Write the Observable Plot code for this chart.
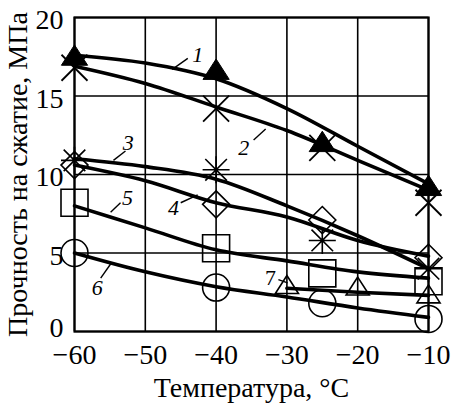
<!DOCTYPE html>
<html>
<head>
<meta charset="utf-8">
<script src="https://cdn.jsdelivr.net/npm/d3@7"></script>
<script src="https://cdn.jsdelivr.net/npm/@observablehq/plot@0.6"></script>
<style>
  html, body { margin: 0; padding: 0; background: #fff; }
  #chart svg { display: block; }
</style>
</head>
<body>
<div id="chart"></div>
<script>
// ---- data ----
const xTicks = [-60, -50, -40, -30, -20, -10];
const yTicks = [0, 5, 10, 15, 20];

// smooth curves
const curveT = [-60, -50, -40, -30, -20, -10];
const curve1 = [17.6, 17.1, 16.1, 14.2, 11.8, 9.4];
const curve2 = [16.9, 15.8, 14.3, 12.8, 10.9, 9.0];
const curve3 = [11.0, 10.5, 9.7, 8.0, 6.1, 4.0];
const curve4 = [10.6, 9.6, 8.2, 7.3, 5.8, 4.8];
const curve5 = [8.0, 6.6, 5.2, 4.5, 3.8, 3.4];
const curve6 = [5.0, 3.8, 2.85, 2.2, 1.5, 0.9];
const curve7T = [-30, -20, -10];
const curve7 = [2.75, 2.5, 2.3];

// measured points (markers)
const markT = [-60, -40, -25, -10];
const mark1 = [17.5, 16.6, 12.0, 9.2];   // filled triangles
const mark2 = [16.8, 14.2, 11.7, 8.2];   // crosses
const mark3 = [10.9, 10.3, 5.8, 4.0];    // asterisks
const mark4 = [10.6, 8.1, 7.1, 4.7];     // diamonds
const mark5 = [8.2, 5.3, 3.7, 3.2];      // squares
const mark6 = [5.0, 2.8, 1.8, 0.8];      // circles
const mark7T = [-30, -20, -10];
const mark7 = [2.9, 2.8, 2.3];           // open triangles

// curve number labels and their leader lines (data units)
const labelText = ["1", "2", "3", "4", "5", "6", "7"];
const labelX = [-42.6, -36.1, -52.4, -46.0, -52.5, -56.8, -32.3];
const labelY = [17.6, 11.7, 12.0, 7.9, 8.5, 2.8, 3.4];
const leadX1 = [-46.2, -34.7, -54.5, -45.0, -54.9, -56.3, -31.2];
const leadY1 = [16.7, 12.2, 10.9, 8.2, 7.6, 3.4, 3.3];
const leadX2 = [-44.0, -33.0, -52.8, -42.6, -53.5, -54.9, -29.9];
const leadY2 = [17.4, 12.9, 11.5, 8.7, 8.2, 4.3, 3.1];
const labelItalic = [true, true, true, true, true, true, false];

const xTitle = "Температура, °C";
const yTitle = "Прочность на сжатие, МПа";

// ---- symbols ----
const R = s => Math.sqrt(s / Math.PI);
const symTriangle = { draw(c, s) { const r = R(s); c.moveTo(0, -0.95 * r); c.lineTo(1.05 * r, 0.68 * r); c.lineTo(-1.05 * r, 0.68 * r); c.closePath(); } };
const symTimes = { draw(c, s) { const r = R(s); c.moveTo(-r, -r); c.lineTo(r, r); c.moveTo(r, -r); c.lineTo(-r, r); } };
const symAster = { draw(c, s) { const r = R(s); const d = r * 0.8; c.moveTo(-d, -d); c.lineTo(d, d); c.moveTo(d, -d); c.lineTo(-d, d); c.moveTo(-r, 0); c.lineTo(r, 0); c.moveTo(0, -r); c.lineTo(0, r); } };
const symDiamond = { draw(c, s) { const r = R(s); c.moveTo(0, -r); c.lineTo(r, 0); c.lineTo(0, r); c.lineTo(-r, 0); c.closePath(); } };
const symSquare = { draw(c, s) { const r = R(s); c.rect(-r, -r, 2 * r, 2 * r); } };
const symCircle = { draw(c, s) { const r = R(s); c.moveTo(r, 0); c.arc(0, 0, r, 0, 2 * Math.PI); } };

const rows = (xs, ys) => xs.map((x, i) => ({ x, y: ys[i] }));
const lines = [curve1, curve2, curve3, curve4, curve5, curve6].map(v => rows(curveT, v));
lines.push(rows(curve7T, curve7));

const labels = labelText.map((t, i) => ({ t, x: labelX[i], y: labelY[i], x1: leadX1[i], y1: leadY1[i], x2: leadX2[i], y2: leadY2[i], it: labelItalic[i] }));

const lineMarks = lines.map(d => Plot.line(d, { x: "x", y: "y", curve: "monotone-x", stroke: "black", strokeWidth: 3.6 }));

const dot = (xs, ys, sym, r, fill, sw) =>
  Plot.dot(rows(xs, ys), { x: "x", y: "y", symbol: sym, r, fill, stroke: "black", strokeWidth: sw });

const serif = "Liberation Serif";

const chart = Plot.plot({
  width: 451,
  height: 404,
  marginLeft: 74,
  marginRight: 23,
  marginTop: 17,
  marginBottom: 73,
  style: { fontFamily: "'Liberation Serif', 'Times New Roman', serif", fontSize: "28px", background: "#fff", color: "#000" },
  x: { domain: [-60, -10] },
  y: { domain: [0, 20] },
  marks: [
    Plot.gridX(xTicks, { stroke: "#000", strokeOpacity: 1, strokeWidth: 1.6 }),
    Plot.gridY(yTicks, { stroke: "#000", strokeOpacity: 1, strokeWidth: 1.6 }),
    Plot.frame({ stroke: "#000", strokeWidth: 2.2 }),
    Plot.axisX(xTicks, {
      tickSize: 0, tickPadding: 13,
      tickFormat: d => (d < 0 ? "\u2212" + (-d) : String(d)),
      label: xTitle, labelAnchor: "center", labelArrow: "none", labelOffset: 65,
      fontSize: 28, fontFamily: serif
    }),
    Plot.axisY(yTicks.filter(d => d > 0), {
      tickSize: 0, tickPadding: 11, dy: 3,
      label: yTitle, labelAnchor: "center", labelArrow: "none", labelOffset: 67,
      fontSize: 28, fontFamily: serif
    }),
    Plot.axisY(yTicks.filter(d => d === 0), {
      tickSize: 0, tickPadding: 11, dy: -3, label: null,
      fontSize: 28, fontFamily: serif
    }),
    ...lineMarks,
    dot(markT, mark6, symCircle, 13.5, "none", 1.6),
    dot(markT, mark5, symSquare, 13.5, "none", 1.6),
    dot(mark7T, mark7, symTriangle, 11, "none", 1.6),
    dot(markT, mark4, symDiamond, 13.5, "none", 1.6),
    dot(markT, mark3, symAster, 13.5, "none", 1.6),
    dot(markT, mark2, symTimes, 13, "none", 1.8),
    dot(markT, mark1, symTriangle, 12.5, "#000", 1),
    Plot.link(labels, { x1: "x1", y1: "y1", x2: "x2", y2: "y2", stroke: "#000", strokeWidth: 1.4 }),
    Plot.text(labels.filter(d => d.it), { x: "x", y: "y", text: "t", fontSize: 22, fontStyle: "italic", fill: "#000", fontFamily: serif }),
    Plot.text(labels.filter(d => !d.it), { x: "x", y: "y", text: "t", fontSize: 22, fill: "#000", fontFamily: serif })
  ]
});
document.getElementById("chart").appendChild(chart);
</script>
</body>
</html>
